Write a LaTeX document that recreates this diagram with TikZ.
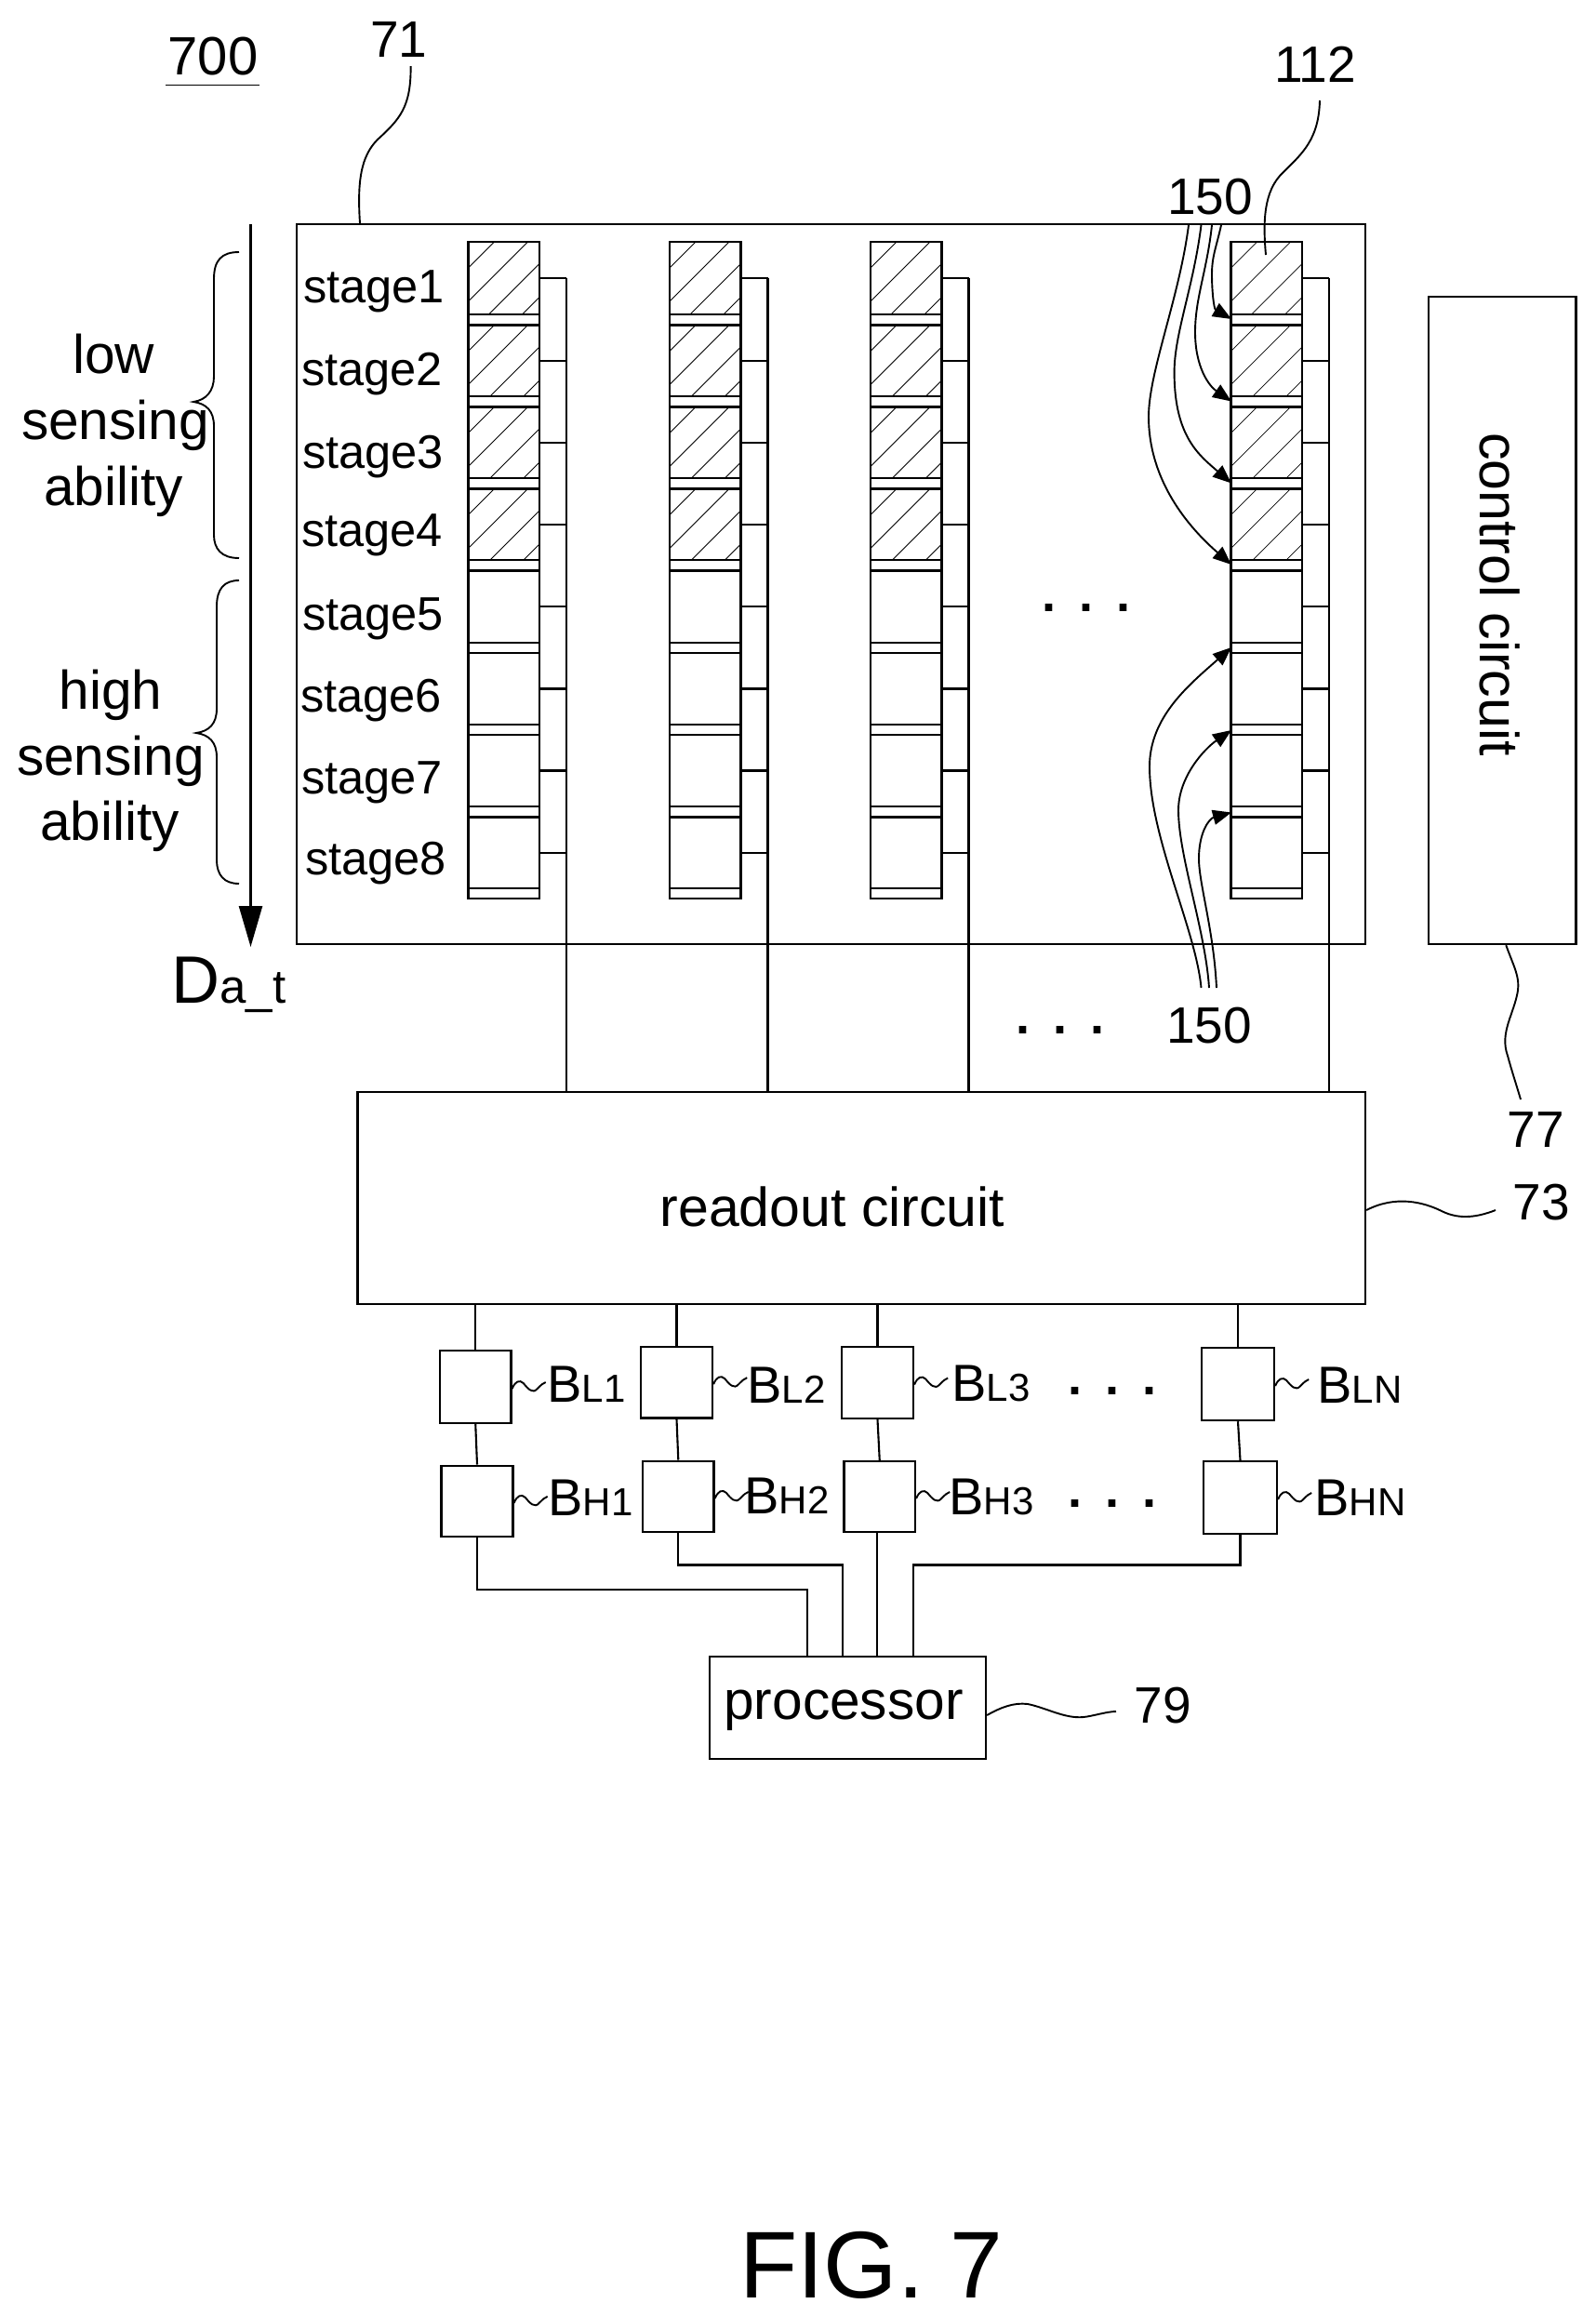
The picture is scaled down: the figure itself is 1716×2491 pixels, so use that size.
\documentclass[tikz,border=0pt]{standalone}
\usepackage{fontspec}
\setmainfont{Liberation Sans}
\usetikzlibrary{fit,arrows.meta}
\newcommand{\fs}[1]{\fontsize{#1}{#1}\selectfont}
\newcommand{\dotrow}{\textbf{.}\hspace{12.7pt}\textbf{.}\hspace{12.7pt}\textbf{.}}
\newcommand{\bufname}[2]{{\fs{28}B}{\fs{21}#1#2}}
\newcommand{\tildefrom}[1]{\begin{scope}[shift={(#1.east)}]\draw[leader] (0,2) .. controls (3,-6) and (8,-8) .. (12,-4) .. controls (17,2) and (22,8) .. (27,2) .. controls (31,-2) and (33,-4) .. (36,-5);\end{scope}}
\tikzset{
  x=0.5pt,y=-0.5pt,
  boxn/.style={draw=black,line width=1.2pt,inner sep=0pt,fill=none},
  wire/.style={draw=black,line width=1.05pt},
  leader/.style={draw=black,line width=0.95pt},
  hatchl/.style={draw=black,line width=0.4pt},
  arrowl/.style={draw=black,line width=0.95pt,-{Triangle[length=10pt,width=8pt]}},
  lab/.style={font=\fs{27.5},inner sep=0pt},
  stagel/.style={font=\fs{25.3},inner sep=0pt},
  sidel/.style={font=\fs{29.3},inner sep=0pt},
  midl/.style={font=\fs{29.5},inner sep=0pt},
  bufl/.style={inner sep=0pt,anchor=base west},
  dotl/.style={font=\fs{27},inner sep=0pt},
}
\begin{document}
\begin{tikzpicture}
\useasboundingbox (0,0) rectangle (1716,2491);
\fill[white] (0,0) rectangle (1716,2491);

% main blocks
\node[boxn,fit={(319,241)(1468,1015)}] (array) {};
\node[boxn,fit={(1536,319)(1694.5,1015)}] (control) {};
\node[boxn,fit={(384.5,1174)(1468,1402)}] (readout) {};
\node[boxn,fit={(763,1781)(1060,1891)}] (proc) {};

\node[midl,rotate=-90] (controlt) at (1613,639) {control circuit};
\node[midl] (readoutt) at (895,1297) {readout circuit};
\node[sidel,anchor=center] (proct) at (907,1839) {processor};

% pixel columns
\foreach \c/\l in {1/503.5,2/720,3/936,4/1323.6}{
  \node[boxn,fit={(\l,260)(\l+76.5,966)}] (col\c) {};
  \coordinate (w\c) at (\l+105.5,299);
  \foreach \r/\t/\b in {1/260/338,2/349.5/426,3/437.5/514,4/525.5/602}{
    \node[boxn,fit={(\l,\t)(\l+76.5,\b)}] (cell\c\r) {};
    \begin{scope}
      \clip (\l,\t) rectangle (\l+76.5,\b);
      \foreach \k in {28,64,100,136}{
        \draw[hatchl] (\l,\t+\k) -- (\l+\k,\t);
      }
    \end{scope}
  }
  \foreach \r/\t/\b in {5/613.5/691,6/702/779,7/790/867,8/878.5/955}{
    \node[boxn,fit={(\l,\t)(\l+76.5,\b)}] (cell\c\r) {};
  }
  \foreach \r in {1,...,8}{
    \draw[wire] (cell\c\r.east) -- (cell\c\r.east -| w\c);
  }
  \draw[wire] (w\c) -- (w\c |- readout.north);
}

% stage labels
\node[stagel] (s1) at (402,313) {stage1};
\node[stagel] (s2) at (400,402) {stage2};
\node[stagel] (s3) at (401,491) {stage3};
\node[stagel] (s4) at (400,575) {stage4};
\node[stagel] (s5) at (401,665) {stage5};
\node[stagel] (s6) at (399,753) {stage6};
\node[stagel] (s7) at (400,841) {stage7};
\node[stagel] (s8) at (404,928) {stage8};

% side axis
\coordinate (atop) at (269.5,241);
\coordinate (abot) at (269.5,1018);
\draw[draw=black,line width=1.2pt,-{Triangle[length=22pt,width=12.5pt]}] (atop) -- (abot);
\node[inner sep=0pt,anchor=base west] (dat) at (184,1078) {{\fs{36}D}{\fs{25.5}a\_t}};

% braces
\draw[leader] (257,271) .. controls (238,271) and (230,280) .. (230,300) -- (230,405)
  .. controls (230,420) and (222,430) .. (208,432)
  .. controls (222,434) and (230,442) .. (230,458) -- (230,575)
  .. controls (230,590) and (238,600) .. (257,600);
\draw[leader] (257,624) .. controls (241,624) and (233,633) .. (233,652) -- (233,762)
  .. controls (233,778) and (225,786) .. (211,788)
  .. controls (225,790) and (233,798) .. (233,814) -- (233,924)
  .. controls (233,941) and (241,950) .. (257,950);
\node[sidel] (low1) at (122,381) {low};
\node[sidel] (low2) at (124,457) {sensing};
\node[sidel] (low3) at (122,528) {ability};
\node[sidel] (hi1) at (119,747) {high};
\node[sidel] (hi2) at (119,818) {sensing};
\node[sidel] (hi3) at (118,888) {ability};

% reference labels
\node[font=\fs{29},inner sep=0pt] (n700) at (229,61) {700};
\coordinate (ua) at (178,91.5);
\coordinate (ub) at (279,91.5);
\draw[leader] (ua) -- (ub);
\node[lab] (n71) at (429,43) {71};
\coordinate (l71) at (441.6,71);
\coordinate (e71) at (387,240);
\draw[leader] (l71) .. controls (442,115) and (430,128) .. (406,150) .. controls (388,168) and (384,195) .. (e71);
\node[lab] (n112) at (1414,69) {112};
\coordinate (l112) at (1419,108);
\coordinate (e112) at (1361,274);
\draw[leader] (l112) .. controls (1418,150) and (1400,165) .. (1380,185) .. controls (1358,205) and (1358,240) .. (e112);
\node[lab] (n150a) at (1301,212) {150};
\node[lab] (n150b) at (1300,1103) {150};
\node[lab] (n77) at (1651,1215) {77};
\coordinate (l77) at (1635,1182);
\draw[leader] (control.south) ++(4,0) coordinate (e77) .. controls (1628,1040) and (1634,1050) .. (1632,1065) .. controls (1628,1090) and (1612,1110) .. (1621,1135) .. controls (1625,1150) and (1630,1165) .. (l77);
\node[lab] (n73) at (1657,1293) {73};
\coordinate (l73) at (1608,1301);
\draw[leader] (readout.east) ++(0,13) coordinate (e73) .. controls (1500,1285) and (1530,1292) .. (1550,1302) .. controls (1570,1312) and (1590,1308) .. (l73);
\node[lab] (n79) at (1250,1834) {79};
\coordinate (l79) at (1200,1840);
\draw[leader] (proc.east) ++(0,8) coordinate (e79) .. controls (1075,1836) and (1090,1830) .. (1105,1832) .. controls (1125,1836) and (1145,1848) .. (1165,1846) .. controls (1175,1845) and (1190,1840) .. (l79);

% dots
\node[dotl] (d1) at (1168,653) {\dotrow};
\node[dotl] (d2) at (1140,1107) {\dotrow};
\node[dotl] (d3) at (1196,1495) {\dotrow};
\node[dotl] (d4) at (1196,1616) {\dotrow};

% 150 arrows
\foreach \n/\x/\y in {a1/1313/242,a2/1303/242,a3/1291.5/242,a4/1278/242,b1/1291.5/1062,b2/1300/1062,b3/1308/1062}{
  \coordinate (\n) at (\x,\y);
}
\coordinate (ta1) at (1324,343);
\coordinate (ta2) at (1324,431.5);
\coordinate (ta3) at (1324,519.5);
\coordinate (ta4) at (1324,607);
\coordinate (tb1) at (1324,696);
\coordinate (tb2) at (1324,785);
\coordinate (tb3) at (1324,873.5);
\draw[arrowl] (a1) .. controls (1308,265) and (1303,275) .. (1303,295) .. controls (1303,312) and (1305,332) .. (ta1);
\draw[arrowl] (a2) .. controls (1298,290) and (1285,320) .. (1285,357) .. controls (1285,395) and (1300,415) .. (ta2);
\draw[arrowl] (a3) .. controls (1283,310) and (1262,360) .. (1262.6,402) .. controls (1263,470) and (1290,490) .. (ta3);
\draw[arrowl] (a4) .. controls (1268,320) and (1235,400) .. (1235,448) .. controls (1235,510) and (1270,560) .. (ta4);
\draw[arrowl] (b1) .. controls (1286,1000) and (1236,900) .. (1236,824) .. controls (1236,770) and (1280,735) .. (tb1);
\draw[arrowl] (b2) .. controls (1296,1000) and (1267,920) .. (1267,871) .. controls (1267,835) and (1295,805) .. (tb2);
\draw[arrowl] (b3) .. controls (1305,1000) and (1289,950) .. (1289,923) .. controls (1289,895) and (1300,880) .. (tb3);

% buffers
\node[boxn,fit={(473,1452)(549.5,1530)}] (bl1) {};
\node[boxn,fit={(689,1447.7)(766,1524.6)}] (bl2) {};
\node[boxn,fit={(905,1448)(982,1525)}] (bl3) {};
\node[boxn,fit={(1292,1449)(1370,1527)}] (bln) {};
\node[boxn,fit={(474.5,1575.7)(551.5,1652)}] (bh1) {};
\node[boxn,fit={(691,1570.7)(767.6,1647)}] (bh2) {};
\node[boxn,fit={(907.5,1571)(984,1647)}] (bh3) {};
\node[boxn,fit={(1294,1571)(1373,1649)}] (bhn) {};
\foreach \n in {bl1,bl2,bl3,bln}{ \draw[wire] (\n.north) -- (\n.north |- readout.south); }
\foreach \a/\b in {bl1/bh1,bl2/bh2,bl3/bh3,bln/bhn}{ \draw[wire] (\a.south) -- (\b.north); }
\foreach \n in {bl1,bl2,bl3,bln,bh1,bh2,bh3,bhn}{ \tildefrom{\n} }
\node[bufl] (tl1) at (588,1507.7) {\bufname{L}{1}};
\node[bufl] (tl2) at (803,1508.7) {\bufname{L}{2}};
\node[bufl] (tl3) at (1023,1506.7) {\bufname{L}{3}};
\node[bufl] (tln) at (1416,1508) {\bufname{L}{N}};
\node[bufl] (th1) at (589,1629.4) {\bufname{H}{1}};
\node[bufl] (th2) at (800,1627) {\bufname{H}{2}};
\node[bufl] (th3) at (1020,1628) {\bufname{H}{3}};
\node[bufl] (thn) at (1413,1629) {\bufname{H}{N}};

% bus to processor
\coordinate (p1) at (868,1781);
\coordinate (p2) at (905.6,1781);
\coordinate (p3) at (943,1781);
\coordinate (p4) at (981.6,1781);
\draw[wire] (bh1.south) -- (bh1.south |- 0,1709) -| (p1);
\draw[wire] (bh2.south) -- (bh2.south |- 0,1682.5) -| (p2);
\draw[wire] (bh3.south -| p3) -- (p3);
\draw[wire] (bhn.south) -- (bhn.south |- 0,1682.5) -| (p4);

\node[inner sep=0pt] (fig) at (937,2435) {\fs{51}FIG. 7};
\end{tikzpicture}
\end{document}
